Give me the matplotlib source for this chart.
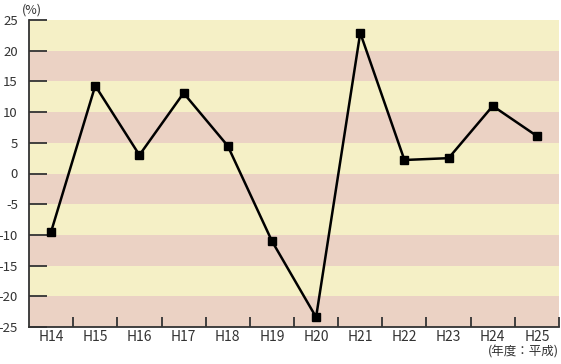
import matplotlib
matplotlib.use("Agg")
import matplotlib.pyplot as plt
import numpy as np

plt.rcParams['font.family'] = ['Noto Sans CJK JP', 'DejaVu Sans']

years = ['H14', 'H15', 'H16', 'H17', 'H18', 'H19', 'H20', 'H21', 'H22', 'H23', 'H24', 'H25']
growth = [-9.5, 14.3, 3.0, 13.1, 4.5, -11.0, -23.4, 22.9, 2.2, 2.5, 11.0, 6.1]
yticks = [25, 20, 15, 10, 5, 0, -5, -10, -15, -20, -25]

yellow = '#f5f0c6'
pink = '#ebd2c4'
txt = '#333333'

fig = plt.figure(figsize=(5.61, 3.64), dpi=100)
ax = fig.add_axes([29/561, 1 - 327/364, 530/561, 307/364])

x = np.arange(len(years))
ax.set_xlim(-0.5, len(years) - 0.5)
ax.set_ylim(-25, 25)

# striped background
for i, lo in enumerate(range(20, -30, -5)):
    ax.axhspan(lo, lo + 5, color=yellow if i % 2 == 0 else pink, lw=0, zorder=0)

ax.plot(x, growth, color='black', lw=1.8, marker='s', ms=6, zorder=3)

for s in ['top', 'right']:
    ax.spines[s].set_visible(False)
for s in ['left', 'bottom']:
    ax.spines[s].set_color(txt)
    ax.spines[s].set_linewidth(1.3)

ax.set_yticks(yticks)
ax.set_yticklabels([str(v) for v in yticks], fontsize=9.5, color=txt)
ax.tick_params(axis='y', direction='in', length=13, width=1.3, color=txt, pad=8)

# x ticks at category boundaries, labels at centres
ax.set_xticks(np.arange(0.5, len(years) - 0.4, 1))
ax.set_xticklabels([])
ax.set_xticks(x, minor=True)
ax.set_xticklabels(years, minor=True, fontsize=10, color=txt)
ax.tick_params(axis='x', which='major', direction='in', length=7, width=1.3, color=txt)
ax.tick_params(axis='x', which='minor', length=0, pad=2)

fig.text(22/561, 1 - 10/364, '(%)', fontsize=9, color=txt, va='center', ha='left')
fig.text(559/561, 1 - 352/364, '(年度：平成)', fontsize=9, color=txt, va='center', ha='right')

fig.savefig('out.png', dpi=100)
